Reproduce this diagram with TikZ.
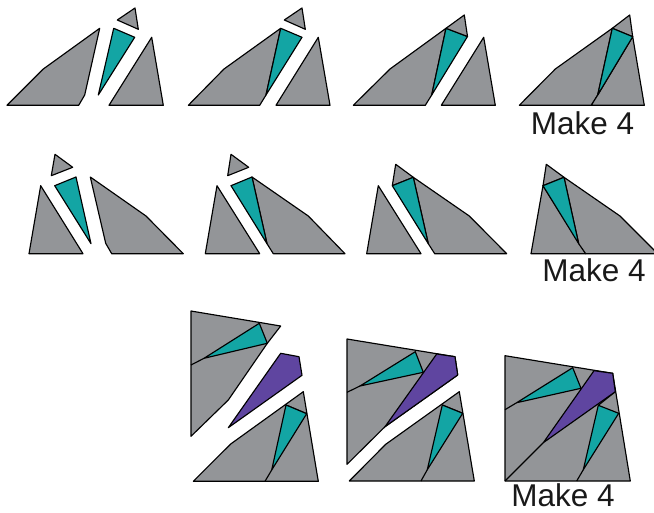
\documentclass[tikz,border=0pt]{standalone}
\usepackage{fontspec}
\setmainfont{Liberation Sans}
\definecolor{dissGray}{HTML}{939598}
\definecolor{dissTeal}{HTML}{13A5A4}
\definecolor{dissPurple}{HTML}{5F45A0}
\tikzset{
  diss piece/.style={draw=black, fill=dissGray, line width=1.15pt, line join=round},
  diss teal/.style={draw=black, fill=dissTeal, line width=1.15pt, line join=round},
  diss purple/.style={draw=black, fill=dissPurple, line width=1.15pt, line join=round},
  diss cut/.style={draw=black, line width=1.15pt},
  diss label/.style={font=\fontsize{31.5}{36}\selectfont, text=black!90, anchor=base, inner sep=0pt},
}

\begin{document}
\begin{tikzpicture}[x=1pt, y=-1pt]
  \useasboundingbox (0,0) rectangle (654,513);
  \clip (0,0) rectangle (654,513);
  % Top row, first panel: all pieces apart
  \draw[diss piece] (7,105.3) -- (43.3,69) -- (99.7,28.3) -- (84.7,95) -- (78.7,105.3) -- cycle;
  \draw[diss teal] (113.7,28.3) -- (134.7,37.3) -- (98.3,95) -- cycle;
  \draw[diss piece] (135,8) -- (117.3,20) -- (138.3,29.3) -- cycle;
  \draw[diss piece] (151.7,37.3) -- (163.3,105.3) -- (109,105.3) -- cycle;
  % Top row, second panel: teal joined on the left piece
  \draw[diss piece] (188.3,105.3) -- (224,69) -- (280.7,28.3) -- (266,95) -- (259.7,105.3) -- cycle;
  \draw[diss teal] (280.7,28.3) -- (302,37.3) -- (266,95) -- cycle;
  \draw[diss piece] (302,8) -- (284.3,20) -- (305.3,29.3) -- cycle;
  \draw[diss piece] (318.3,37.3) -- (330,105.3) -- (276,105.3) -- cycle;
  % Top row, third panel: tip joined too
  \draw[diss piece] (353.3,105.3) -- (390,69) -- (446,28.3) -- (431.7,95) -- (425.3,105.3) -- cycle;
  \draw[diss teal] (446,28.3) -- (467.5,36.5) -- (431.7,95) -- cycle;
  \draw[diss piece] (464.3,15) -- (446,28.3) -- (467.5,36.5) -- cycle;
  \draw[diss piece] (483.7,37.3) -- (495.3,105.3) -- (441.3,105.3) -- cycle;
  % Top row, fourth panel: complete
  \draw[diss piece] (519.3,105.3) -- (555.3,69) -- (612.3,28.3) -- (597.7,95) -- (591.3,105.3) -- cycle;
  \draw[diss piece] (632.7,36.7) -- (644.3,105.3) -- (591.3,105.3) -- (597.7,95) -- cycle;
  \draw[diss piece] (629.7,15) -- (612.3,28.3) -- (632.7,36.7) -- cycle;
  \draw[diss teal] (612.3,28.3) -- (632.7,36.7) -- (597.7,95) -- cycle;
  \node[diss label] (make top) at (582.5,135) {Make 4};
  % Middle row, first panel: all pieces apart
  \draw[diss piece] (55,154.3) -- (72.7,167.3) -- (51.3,175.7) -- cycle;
  \draw[diss teal] (76,177) -- (54.7,185.7) -- (91,243.7) -- cycle;
  \draw[diss piece] (40.7,185.7) -- (83,253.7) -- (29,253.7) -- cycle;
  \draw[diss piece] (90.3,177) -- (146,216) -- (183.3,253.7) -- (111.7,253.7) -- (105.7,243.3) -- cycle;
  % Middle row, second panel
  \draw[diss piece] (231,154.3) -- (248.7,167.3) -- (227.7,175.7) -- cycle;
  \draw[diss piece] (217,185.7) -- (259.7,253.7) -- (205.3,253.7) -- cycle;
  \draw[diss piece] (252,177) -- (308.3,216) -- (345,253.7) -- (273.3,253.7) -- (267,243.7) -- cycle;
  \draw[diss teal] (252,177) -- (231,185.7) -- (267,243.7) -- cycle;
  % Middle row, third panel
  \draw[diss piece] (378.3,185.7) -- (421,253.7) -- (366.7,253.7) -- cycle;
  \draw[diss piece] (395.7,164.3) -- (413.3,177.3) -- (392.3,185.7) -- cycle;
  \draw[diss piece] (413.3,177.3) -- (469.3,216) -- (506.7,253.7) -- (434.7,253.7) -- (428.3,243.7) -- cycle;
  \draw[diss teal] (413.3,177.3) -- (392.3,185.7) -- (428.3,243.7) -- cycle;
  % Middle row, fourth panel: complete
  \draw[diss piece] (543,185.7) -- (585.7,253.7) -- (531,253.7) -- cycle;
  \draw[diss piece] (546.3,164.3) -- (564,177.3) -- (543,185.7) -- cycle;
  \draw[diss piece] (564,177.3) -- (620,216) -- (657.7,253.7) -- (585.7,253.7) -- (578.7,243.7) -- cycle;
  \draw[diss teal] (564,177.3) -- (543,185.7) -- (578.7,243.7) -- cycle;
  \node[diss label] (make middle) at (594,282) {Make 4};
  % Bottom row, first panel: the two halves and the purple piece apart
  \draw[diss piece] (191,311) -- (280.7,326) -- (267.3,343.3) -- (228.3,400) -- (191,436.3) -- cycle;
  \draw[diss cut] (191,365) -- (204,358.3);
  \draw[diss teal] (259.3,323.3) -- (267.3,343.3) -- (204,358.3) -- cycle;
  \draw[diss purple] (280.7,353.3) -- (299,356.7) -- (302,375.3) -- (228.3,427.7) -- cycle;
  \draw[diss piece] (303.3,391.7) -- (318.3,481.3) -- (193.3,481.3) -- (230.7,444) -- cycle;
  \draw[diss cut] (286,405) -- (306.7,413.7);
  \draw[diss cut] (271.7,470) -- (265,481.3);
  \draw[diss teal] (286,405) -- (306.7,413.7) -- (271.7,470) -- cycle;
  % Bottom row, second panel: purple joined on the upper part
  \draw[diss piece] (347,339) -- (455,356.7) -- (457.7,375) -- (385,426.7) -- (347,464.3) -- cycle;
  \draw[diss cut] (347,392.3) -- (360,386);
  \draw[diss teal] (415.3,351.7) -- (423.3,372.3) -- (360,386) -- cycle;
  \draw[diss purple] (436.7,354) -- (455,356.7) -- (457.7,375) -- (385,426.7) -- cycle;
  \draw[diss piece] (459.3,391.7) -- (474.3,481) -- (349.3,481) -- (385.7,444.3) -- cycle;
  \draw[diss cut] (442.3,405) -- (462.7,413.3);
  \draw[diss cut] (427.3,469.7) -- (421,481);
  \draw[diss teal] (442.3,405) -- (462.7,413.3) -- (427.3,469.7) -- cycle;
  % Bottom row, third panel: complete
  \draw[diss piece] (505,355.7) -- (612.7,373.3) -- (630.3,481) -- (505,481) -- cycle;
  \draw[diss cut] (505,409.7) -- (516.7,402.7);
  \draw[diss teal] (572.7,367.7) -- (581,388.3) -- (516.7,402.7) -- cycle;
  \draw[diss cut] (543.3,442.7) -- (505,481);
  \draw[diss cut] (615.3,391.7) -- (598.3,405.3);
  \draw[diss purple] (594,370.7) -- (612.7,373.3) -- (615.3,391.7) -- (543.3,442.7) -- cycle;
  \draw[diss cut] (583.3,469.7) -- (576.7,481);
  \draw[diss teal] (598.3,405.3) -- (618.7,413.3) -- (583.3,469.7) -- cycle;
  \node[diss label] (make bottom) at (563,506.5) {Make 4};
\end{tikzpicture}
\end{document}
